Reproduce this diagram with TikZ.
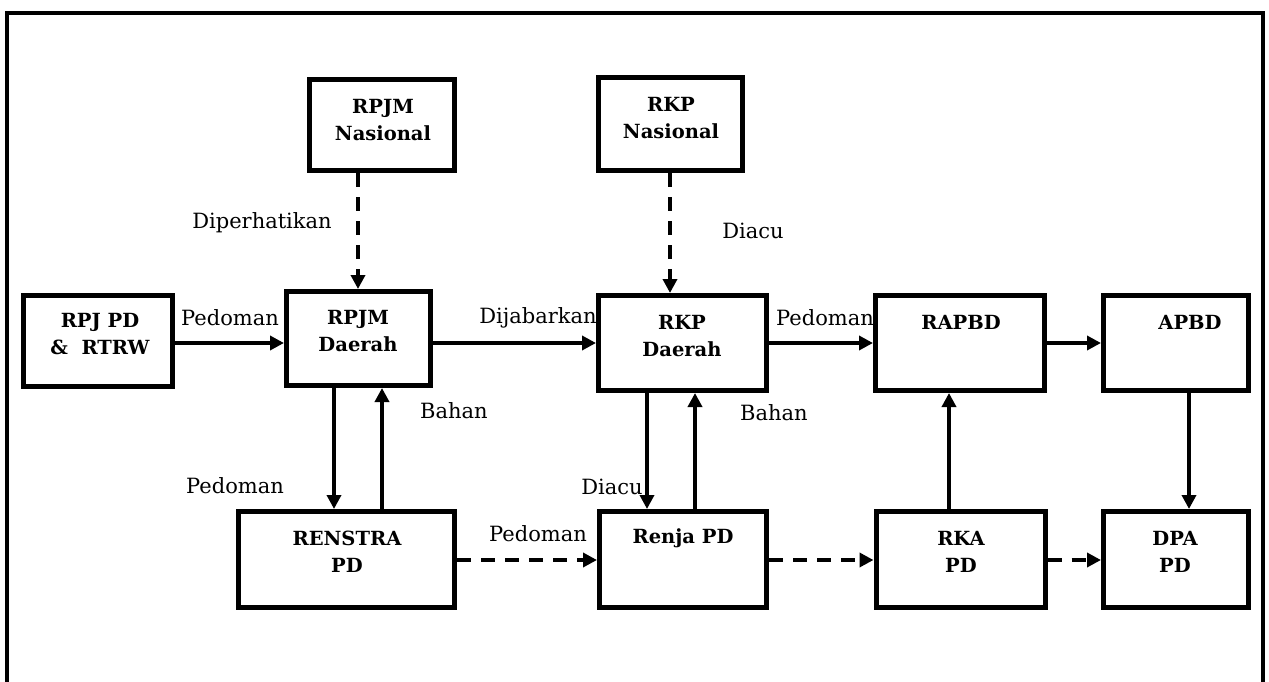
\documentclass[tikz,border=0pt]{standalone}
\usepackage{fontspec}
\setmainfont{DejaVu Serif}
\usetikzlibrary{arrows.meta,calc}

\tikzset{
  box/.style={draw, line width=5pt, inner sep=0pt, minimum width=#1},
  box/.default=145pt,
  boxtext/.style={font=\fontsize{19.5}{27}\selectfont\bfseries, align=center, inner sep=0pt},
  lbl/.style={font=\fontsize{21}{24}\selectfont, inner sep=0pt},
  conn/.style={line width=3.5pt, -{Triangle[length=14pt,width=14pt]}},
  dconn/.style={conn, dash pattern=on 14pt off 10pt},
}

\begin{document}
\begin{tikzpicture}[x=1pt, y=-1pt]
\useasboundingbox (0,0) rectangle (1269,682);

% outer frame, open at the bottom
\draw[line width=4pt] (7,682) -- (7,13) -- (1263,13) -- (1263,682);

% boxes
\node[box=149pt, minimum height=91pt] (rpj)     at (98,341)    {};
\node[box=145pt, minimum height=91pt] (rpjmn)   at (382,125)   {};
\node[box=144pt, minimum height=94pt] (rpjmd)   at (358.5,338.5) {};
\node[box=144pt, minimum height=93pt] (rkpn)    at (670.5,124) {};
\node[box=168pt, minimum height=95pt] (rkpd)    at (682.5,343) {};
\node[box=169pt, minimum height=95pt] (rapbd)   at (960,343)   {};
\node[box=145pt, minimum height=95pt] (apbd)    at (1176,343)  {};
\node[box=216pt, minimum height=96pt] (renstra) at (346.5,559.5) {};
\node[box=167pt, minimum height=96pt] (renja)   at (683,559.5) {};
\node[box=169pt, minimum height=96pt] (rka)     at (960.5,559.5) {};
\node[box=145pt, minimum height=96pt] (dpa)     at (1176,559.5) {};

% box texts
\node[boxtext] (trpj)     at (100,334)   {RPJ PD\\\&\ \ RTRW};
\node[boxtext] (trpjmn)   at (383,120)   {RPJM\\Nasional};
\node[boxtext] (trpjmd)   at (358,331)   {RPJM\\Daerah};
\node[boxtext] (trkpn)    at (671,118.5) {RKP\\Nasional};
\node[boxtext] (trkpd)    at (682,336)   {RKP\\Daerah};
\node[boxtext] (trapbd)   at (961,322)   {RAPBD};
\node[boxtext] (tapbd)    at (1190,322)  {APBD};
\node[boxtext] (trenstra) at (347,552)   {RENSTRA\\PD};
\node[boxtext] (trenja)   at (683,538)   {Renja PD};
\node[boxtext] (trka)     at (961,552)   {RKA\\PD};
\node[boxtext] (tdpa)     at (1175,552)  {DPA\\PD};

% horizontal flow along the upper row
\draw[conn] (rpj.east |- 0,343) -- (rpjmd.west |- 0,343);
\draw[conn] (rpjmd.east |- 0,343) -- (rkpd.west |- 0,343);
\draw[conn] (rkpd.east |- 0,343) -- (rapbd.west |- 0,343);
\draw[conn] (rapbd.east |- 0,343) -- (apbd.west |- 0,343);

% national plans feeding the regional ones
\draw[dconn] (rpjmn.south -| 358,0) -- (rpjmd.north -| 358,0);
\draw[dconn] (rkpn.south -| 670,0) -- (rkpd.north -| 670,0);

% vertical links between the rows
\draw[conn] (rpjmd.south -| 334,0) -- (renstra.north -| 334,0);
\draw[conn] (renstra.north -| 382,0) -- (rpjmd.south -| 382,0);
\draw[conn] (rkpd.south -| 647,0) -- (renja.north -| 647,0);
\draw[conn] (renja.north -| 695,0) -- (rkpd.south -| 695,0);
\draw[conn] (rka.north -| 949,0) -- (rapbd.south -| 949,0);
\draw[conn] (apbd.south -| 1189,0) -- (dpa.north -| 1189,0);

% dashed flow along the lower row
\draw[dconn] (renstra.east |- 0,560) -- (renja.west |- 0,560);
\draw[dconn] (renja.east |- 0,560) -- (rka.west |- 0,560);
\draw[dconn] (rka.east |- 0,560) -- (dpa.west |- 0,560);

% connector labels
\node[lbl] (l1)  at (230,318) {Pedoman};
\node[lbl] (l2)  at (262,223) {Diperhatikan};
\node[lbl] (l3)  at (538,318) {Dijabarkan};
\node[lbl] (l4)  at (753,231) {Diacu};
\node[lbl] (l5)  at (825,318) {Pedoman};
\node[lbl] (l6)  at (454,411) {Bahan};
\node[lbl] (l7)  at (235,486) {Pedoman};
\node[lbl] (l8)  at (774,413) {Bahan};
\node[lbl] (l9)  at (612,487) {Diacu};
\node[lbl] (l10) at (538,534) {Pedoman};
\end{tikzpicture}
\end{document}
